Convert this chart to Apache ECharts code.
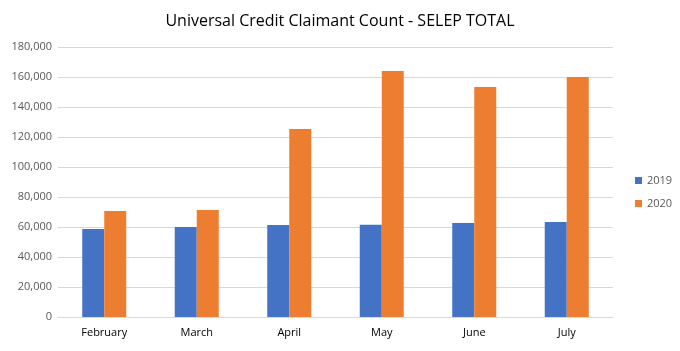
<!DOCTYPE html>
<html>
<head>
<meta charset="utf-8">
<script src="https://cdn.jsdelivr.net/npm/echarts@6/dist/echarts.min.js"></script>
<style>
  html, body { margin: 0; padding: 0; background: #fff; }
  #chart { width: 680px; height: 351px; }
</style>
</head>
<body>
<div id="chart"></div>
<script>
// Values
const months = ['February', 'March', 'April', 'May', 'June', 'July'];
const count2019 = [58700, 60000, 61300, 61500, 62700, 63300];
const count2020 = [70700, 71300, 125300, 164000, 153300, 160000];

const FONT = '"Open Sans", "Liberation Sans", sans-serif';
const TEXT = '#595959';

const chart = echarts.init(document.getElementById('chart'), null, { renderer: 'canvas' });
chart.setOption({
  animation: false,
  title: {
    text: 'Universal Credit Claimant Count - SELEP TOTAL',
    left: 'center', top: 8,
    textStyle: { fontFamily: FONT, fontSize: 16, fontWeight: 'normal', color: '#000' }
  },
  legend: {
    orient: 'vertical',
    left: 630, top: 170,
    itemWidth: 7, itemHeight: 7, itemGap: 12,
    icon: 'rect',
    textStyle: { fontFamily: FONT, fontSize: 11, color: TEXT },
    data: ['2019', '2020']
  },
  grid: { left: 58, right: 67, top: 47, bottom: 34 },
  xAxis: {
    type: 'category',
    data: months,
    axisLine: { lineStyle: { color: '#d9d9d9' } },
    axisTick: { show: false },
    axisLabel: { fontFamily: FONT, fontSize: 11, color: '#000', margin: 10 }
  },
  yAxis: {
    type: 'value',
    min: 0, max: 180000, interval: 20000,
    axisLine: { show: false },
    axisTick: { show: false },
    axisLabel: {
      fontFamily: FONT, fontSize: 11, color: TEXT, margin: 6,
      formatter: v => v.toLocaleString('en-GB')
    },
    splitLine: { lineStyle: { color: '#d9d9d9' } }
  },
  series: [
    { name: '2019', type: 'bar', data: count2019, barWidth: 22, barGap: '0%',
      itemStyle: { color: '#4472c4' } },
    { name: '2020', type: 'bar', data: count2020, barWidth: 22,
      itemStyle: { color: '#ed7d31' } }
  ]
});
</script>
</body>
</html>
